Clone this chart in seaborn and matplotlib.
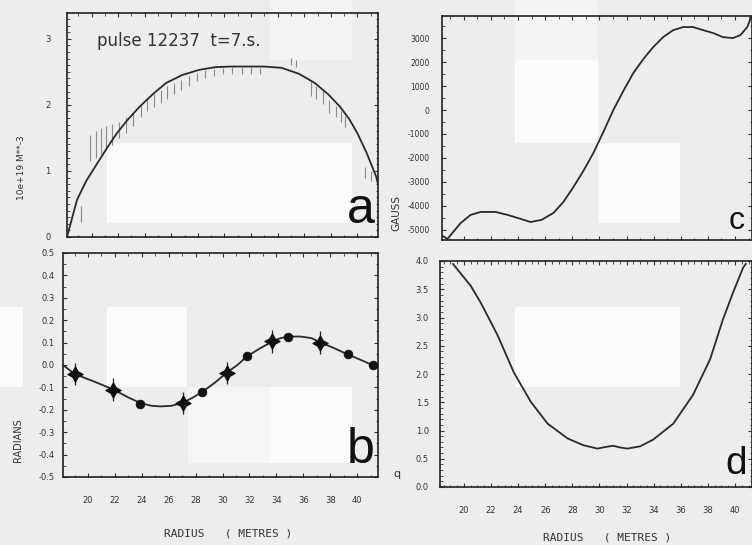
import numpy as np
import pandas as pd
import matplotlib
matplotlib.use("Agg")
import matplotlib.pyplot as plt
from matplotlib.patches import Rectangle
from matplotlib.ticker import MultipleLocator
import seaborn as sns

# ---------------- data ----------------
x_ticks = [20, 22, 24, 26, 28, 30, 32, 34, 36, 38, 40]

# panel a: density profile (fit) and measurements
a_r = [18.15, 18.9, 19.6, 20.6, 21.2, 21.9, 22.7, 23.6, 24.6, 25.6, 26.8, 28.1, 29.3,
       30.5, 31.8, 33.0, 34.3, 35.6, 36.8, 37.8, 38.7, 39.4, 40.0, 40.7, 41.4, 41.55]
a_n = [0.0, 0.56, 0.85, 1.17, 1.36, 1.57, 1.77, 1.97, 2.16, 2.33, 2.45, 2.53, 2.57,
       2.58, 2.58, 2.58, 2.56, 2.47, 2.33, 2.16, 1.97, 1.78, 1.57, 1.27, 0.92, 0.8]
a_meas_r = [19.2, 19.9, 20.3, 20.7, 21.1, 21.5, 22.1, 22.6, 23.1, 23.7, 24.2, 24.7,
            25.2, 25.7, 26.2, 26.7, 27.3, 27.9, 28.5, 29.2, 29.9, 30.6, 31.3, 32.0,
            32.7, 35.0, 35.4, 36.5, 36.9, 37.4, 37.9, 38.4, 38.8, 39.1, 40.6, 41.0]
a_meas_n = [0.35, 1.35, 1.40, 1.45, 1.50, 1.55, 1.62, 1.70, 1.78, 1.92, 2.00, 2.06,
            2.13, 2.19, 2.25, 2.30, 2.36, 2.42, 2.46, 2.49, 2.51, 2.52, 2.52, 2.52,
            2.51, 2.66, 2.63, 2.24, 2.19, 2.11, 1.98, 1.90, 1.82, 1.75, 0.98, 0.92]
a_meas_err = [0.12, 0.2, 0.2, 0.2, 0.18, 0.16, 0.12, 0.12, 0.1, 0.1, 0.1, 0.1,
              0.1, 0.1, 0.08, 0.08, 0.08, 0.06, 0.06, 0.05, 0.05, 0.05, 0.05, 0.05,
              0.05, 0.05, 0.05, 0.1, 0.1, 0.1, 0.1, 0.08, 0.08, 0.08, 0.08, 0.08]

# panel b: Faraday rotation (radians)
b_r = [18.14, 19.0, 20.5, 21.9, 23.0, 23.9, 24.7, 25.4, 26.2, 27.0, 27.8, 28.5, 29.4,
       30.3, 31.1, 31.8, 32.8, 33.7, 34.3, 34.9, 35.8, 36.6, 37.3, 38.3, 39.3, 40.3,
       41.2, 41.55]
b_v = [0.0, -0.04, -0.075, -0.11, -0.145, -0.17, -0.182, -0.185, -0.182, -0.17, -0.145,
       -0.12, -0.08, -0.035, 0.0, 0.038, 0.075, 0.105, 0.12, 0.127, 0.127, 0.12, 0.10,
       0.075, 0.047, 0.022, -0.002, -0.01]
b_star_r = [19.03, 21.86, 27.06, 30.33, 33.68, 37.25]
b_star_v = [-0.04, -0.11, -0.17, -0.035, 0.105, 0.10]
b_dot_r = [23.87, 28.48, 31.82, 34.87, 39.33, 41.19]
b_dot_v = [-0.175, -0.12, 0.038, 0.127, 0.047, -0.002]

# panel c: poloidal field (gauss)
c_r = [18.45, 18.8, 19.78, 20.5, 21.25, 22.35, 23.24, 24.2, 24.93, 25.74, 26.62, 27.35,
       28.09, 28.82, 29.56, 30.29, 31.03, 31.76, 32.5, 33.24, 33.97, 34.7, 35.44, 36.18,
       36.9, 37.65, 38.38, 39.1, 39.85, 40.4, 40.9, 41.25]
c_b = [-5250, -5375, -4710, -4375, -4250, -4250, -4375, -4540, -4670, -4580, -4290, -3830,
       -3210, -2540, -1790, -920, 0, 790, 1540, 2125, 2625, 3040, 3330, 3460,
       3460, 3330, 3210, 3040, 3000, 3125, 3460, 3960]
c_ticks = [-5000, -4000, -3000, -2000, -1000, 0, 1000, 2000, 3000]

# panel d: safety factor q
d_r = [19.19, 20.51, 21.25, 22.5, 23.68, 24.93, 26.18, 27.65, 28.8, 29.85, 30.5, 31.0,
       31.5, 32.06, 33.0, 33.97, 35.44, 36.9, 38.16, 39.1, 39.85, 40.59, 40.8]
d_q = [3.95, 3.56, 3.26, 2.68, 2.03, 1.51, 1.12, 0.86, 0.74, 0.68, 0.71, 0.73,
       0.70, 0.68, 0.72, 0.84, 1.12, 1.63, 2.26, 2.96, 3.44, 3.88, 3.95]
d_ticks = [0.0, 0.5, 1.0, 1.5, 2.0, 2.5, 3.0, 3.5, 4.0]

# ---------------- style ----------------
sns.set_theme(style="ticks")
BG = "#ededed"
plt.rcParams.update({
    "font.family": ["DejaVu Sans"],
    "axes.edgecolor": "#222222",
    "axes.linewidth": 1.2,
    "xtick.direction": "in", "ytick.direction": "in",
    "xtick.color": "#333333", "ytick.color": "#333333",
})

W, H = 752, 545
fig = plt.figure(figsize=(W / 100, H / 100), dpi=100, facecolor=BG)


def px_axes(x0, y0, x1, y1):
    return fig.add_axes([x0 / W, 1 - y1 / H, (x1 - x0) / W, (y1 - y0) / H])


# scan-like light blocks in the background
for (x0, y0, w, h, c) in [(107, 143, 245, 80, "#fbfbfb"), (270, 0, 82, 60, "#f4f4f4"),
                          (515, 0, 83, 60, "#f4f4f4"), (515, 60, 83, 83, "#fbfbfb"),
                          (598, 143, 82, 80, "#fbfbfb"), (107, 307, 80, 80, "#fbfbfb"),
                          (0, 307, 23, 80, "#fbfbfb"), (188, 387, 82, 76, "#f5f5f5"),
                          (270, 387, 82, 76, "#fbfbfb"), (515, 307, 165, 80, "#fbfbfb")]:
    fig.add_artist(Rectangle((x0 / W, 1 - (y0 + h) / H), w / W, h / H,
                             transform=fig.transFigure, facecolor=c,
                             edgecolor="none", zorder=-5))

ax_a = px_axes(67, 13, 378, 237)
ax_b = px_axes(63, 253, 378, 477)
ax_c = px_axes(442, 16, 752, 240)
ax_d = px_axes(440, 261, 752, 487)

for ax in (ax_a, ax_b, ax_c, ax_d):
    ax.set_facecolor("none")
    for s in ax.spines.values():
        s.set_visible(True)
    ax.tick_params(which="both", top=True, right=True, labelsize=6,
                   colors="#333333")
    ax.tick_params(which="major", length=3, width=0.8)
    ax.tick_params(which="minor", length=1.8, width=0.6)

LINE = "#2a2a2a"

# ---- panel a ----
ax_a.errorbar(a_meas_r, a_meas_n, yerr=a_meas_err, fmt="none", ecolor="#8a8a8a",
              elinewidth=0.8, capsize=0, zorder=2)
sns.lineplot(x=a_r, y=a_n, ax=ax_a, color=LINE, lw=1.3, estimator=None, zorder=3)
ax_a.set_xlim(18.15, 41.55)
ax_a.set_ylim(0, 3.39)
ax_a.set_yticks([0, 1, 2, 3])
ax_a.set_yticklabels(["0", "1", "2", "3"])
ax_a.yaxis.set_minor_locator(MultipleLocator(0.1))
ax_a.set_xticks(x_ticks)
ax_a.xaxis.set_minor_locator(MultipleLocator(1))
ax_a.tick_params(axis="x", labelbottom=False)
ax_a.tick_params(axis="y", pad=12)
ax_a.text(0.096, 0.875, "pulse 12237  t=7.s.", transform=ax_a.transAxes,
          fontsize=12, color="#333333", ha="left", va="center")
ax_a.text(0.99, 0.02, "a", transform=ax_a.transAxes, fontsize=36,
          family="Liberation Sans", ha="right", va="bottom", color="#111111")

# ---- panel b ----
sns.lineplot(x=b_r, y=b_v, ax=ax_b, color=LINE, lw=1.3, estimator=None, zorder=2)
ax_b.errorbar(b_star_r, b_star_v, yerr=0.05, xerr=0.35, fmt="none", ecolor="#222222",
              elinewidth=0.9, capsize=0, zorder=3)
sns.scatterplot(x=b_star_r, y=b_star_v, ax=ax_b, marker=(4, 1, 0), s=120,
                color="#111111", edgecolor="#111111", zorder=4)
sns.scatterplot(x=b_dot_r, y=b_dot_v, ax=ax_b, marker="o", s=40,
                color="#111111", edgecolor="#111111", zorder=4)
ax_b.set_xlim(18.14, 41.55)
ax_b.set_ylim(-0.5, 0.5)
b_ticks = [-0.5, -0.4, -0.3, -0.2, -0.1, 0.0, 0.1, 0.2, 0.3, 0.4, 0.5]
ax_b.set_yticks(b_ticks)
ax_b.set_yticklabels([f"{v:.1f}" for v in b_ticks])
ax_b.yaxis.set_minor_locator(MultipleLocator(0.05))
ax_b.set_xticks(x_ticks)
ax_b.set_xticklabels([str(t) for t in x_ticks])
ax_b.xaxis.set_minor_locator(MultipleLocator(1))
ax_b.tick_params(axis="x", pad=14)
ax_b.tick_params(axis="y", pad=6)
ax_b.text(0.99, 0.02, "b", transform=ax_b.transAxes, fontsize=36,
          family="Liberation Sans", ha="right", va="bottom", color="#111111")

# ---- panel c ----
sns.lineplot(x=c_r, y=c_b, ax=ax_c, color=LINE, lw=1.3, estimator=None)
ax_c.set_xlim(18.4, 41.25)
ax_c.set_ylim(-5420, 3920)
ax_c.set_yticks(c_ticks)
ax_c.set_yticklabels([str(t) for t in c_ticks])
ax_c.yaxis.set_minor_locator(MultipleLocator(500))
ax_c.set_xticks(x_ticks)
ax_c.xaxis.set_minor_locator(MultipleLocator(1))
ax_c.tick_params(axis="x", labelbottom=False)
ax_c.tick_params(axis="y", pad=9, labelsize=5.5)
ax_c.text(0.975, 0.02, "c", transform=ax_c.transAxes, fontsize=23,
          family="Liberation Sans", ha="right", va="bottom", color="#111111")

# ---- panel d ----
sns.lineplot(x=d_r, y=d_q, ax=ax_d, color=LINE, lw=1.3, estimator=None)
ax_d.set_xlim(18.24, 41.25)
ax_d.set_ylim(0, 3.97)
ax_d.set_yticks(d_ticks)
ax_d.set_yticklabels([f"{t:.1f}" for t in d_ticks])
ax_d.yaxis.set_minor_locator(MultipleLocator(0.1))
ax_d.set_xticks(x_ticks)
ax_d.set_xticklabels([str(t) for t in x_ticks])
ax_d.xaxis.set_minor_locator(MultipleLocator(0.5))
ax_d.tick_params(axis="x", pad=14)
ax_d.tick_params(axis="y", pad=8)
ax_d.text(0.985, 0.02, "d", transform=ax_d.transAxes, fontsize=28,
          family="Liberation Sans", ha="right", va="bottom", color="#111111")

# ---- axis titles as figure text ----
lab = dict(color="#333333", ha="center", va="center")
fig.text(22 / W, 1 - 168 / H, "10e+19 M**-3", rotation=90, fontsize=6.5, **lab)
fig.text(18 / W, 1 - 440 / H, "RADIANS", rotation=90, fontsize=7, **lab)
fig.text(396 / W, 1 - 213 / H, "GAUSS", rotation=90, fontsize=7.5, **lab)
fig.text(397 / W, 1 - 474 / H, "q", fontsize=8, **lab)
fig.text(228 / W, 1 - 534 / H, "RADIUS   ( METRES )", fontsize=8,
         family="DejaVu Sans Mono", **lab)
fig.text(607 / W, 1 - 537 / H, "RADIUS   ( METRES )", fontsize=8,
         family="DejaVu Sans Mono", **lab)

fig.savefig("out.png", dpi=100, facecolor=BG)
